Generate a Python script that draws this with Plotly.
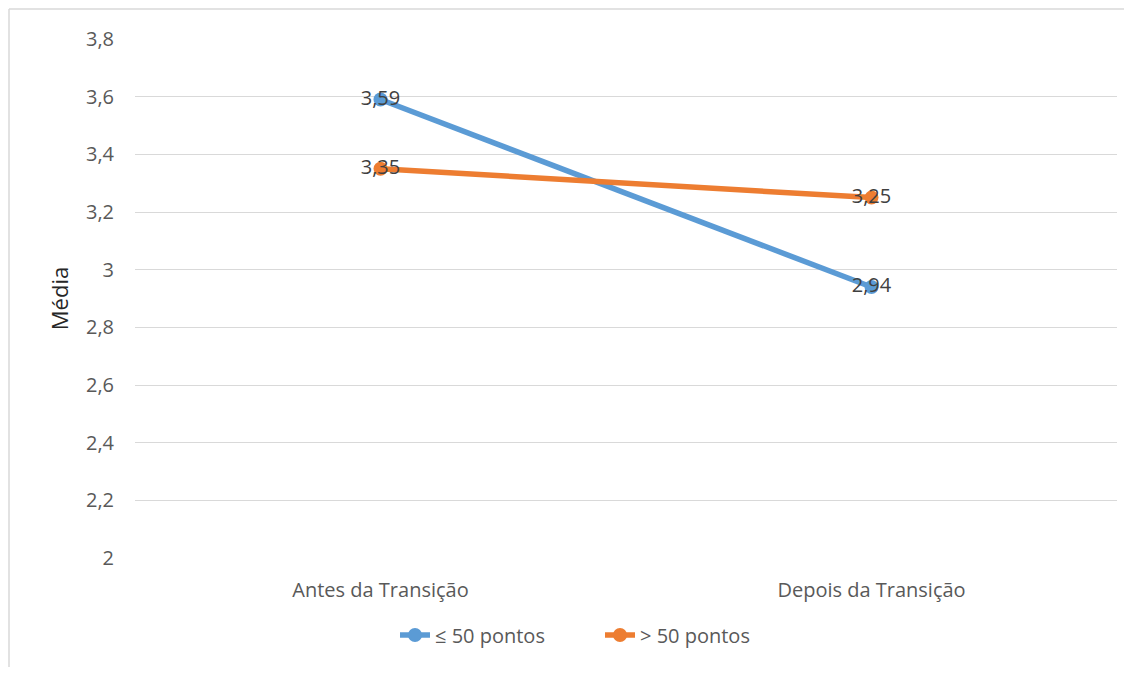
import plotly.graph_objects as go

categories = ['Antes da Transição', 'Depois da Transição']
low_values = [3.59, 2.94]
high_values = [3.35, 3.25]
series_names = ['≤ 50 pontos', '> 50 pontos']
y_ticks = [2, 2.2, 2.4, 2.6, 2.8, 3, 3.2, 3.4, 3.6, 3.8]

def fmt(v):
    return f'{v:g}'.replace('.', ',')

font_family = 'Open Sans, Liberation Sans, sans-serif'
grey_text = '#595959'

# page body has an 8px margin, so the figure is a bit smaller than the window
W, H = 1116, 659
L, R, T, B = 127, 7, 31, 109
plot_w = W - L - R
plot_h = H - T - B

fig = go.Figure()
for name, vals, color in [(series_names[0], low_values, '#5B9BD5'),
                          (series_names[1], high_values, '#ED7D31')]:
    fig.add_trace(go.Scatter(
        x=categories, y=vals, name=name, mode='lines+markers+text',
        line=dict(color=color, width=5.5),
        marker=dict(color=color, size=14),
        text=[fmt(v) for v in vals], textposition='middle center',
        textfont=dict(size=20, color='#404040', family=font_family),
    ))

# chart-area frame: only the top and left edges show in the crop
x_left = (1 - L) / plot_w
y_top = (H - B - 1) / plot_h
frame = dict(color='#D9D9D9', width=1.5)

fig.update_layout(
    width=W, height=H,
    margin=dict(l=L, r=R, t=T, b=B),
    paper_bgcolor='white', plot_bgcolor='white',
    font=dict(family=font_family, color=grey_text),
    showlegend=True,
    legend=dict(orientation='h', x=(592 - L) / plot_w, xanchor='center',
                y=(H + 8 - B - 635) / plot_h, yanchor='middle',
                entrywidth=160, entrywidthmode='pixels',
                font=dict(size=20, color=grey_text)),
    xaxis=dict(range=[-0.5, 1.5], showgrid=False, zeroline=False, showline=False,
               tickfont=dict(size=20, color=grey_text), ticklabelstandoff=18),
    yaxis=dict(range=[2, 3.8], tickvals=y_ticks, ticktext=[fmt(v) for v in y_ticks],
               showgrid=True, gridcolor='#D9D9D9', gridwidth=1.3, zeroline=False,
               tickfont=dict(size=20, color=grey_text), ticklabelstandoff=20,
               title=dict(text='Média', font=dict(size=22, color='#262626'), standoff=11)),
    shapes=[
        dict(type='line', xref='paper', yref='paper', x0=x_left, x1=1.2,
             y0=y_top, y1=y_top, line=frame, layer='below'),
        dict(type='line', xref='paper', yref='paper', x0=x_left, x1=x_left,
             y0=y_top, y1=-0.5, line=frame, layer='below'),
    ],
)

fig.write_html('out.html')
